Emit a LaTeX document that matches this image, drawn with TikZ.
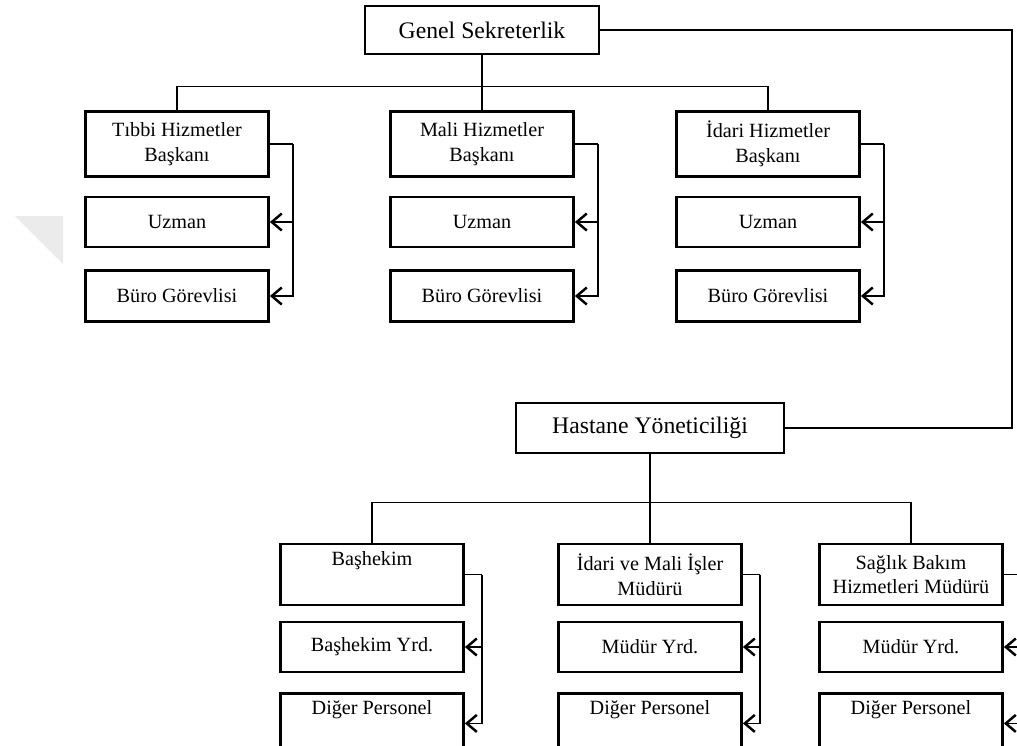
\documentclass[tikz,border=0pt]{standalone}
\usepackage{fontspec}
\setmainfont{Liberation Serif}
\usetikzlibrary{arrows.meta,positioning,calc}

\begin{document}
\begin{tikzpicture}[x=0.02cm,y=-0.02cm,
    box/.style={draw=black, fill=white, line width=1.6pt, minimum width=3.66cm, align=center, inner sep=1pt, font=\fontsize{11.5}{14}\selectfont},
    headbox/.style={box, minimum height=0.96cm, font=\fontsize{13.5}{16}\selectfont},
    conn/.style={line width=0.9pt},
    arr/.style={conn, -{Straight Barb[length=2mm,width=3.4mm,line width=1.4pt]}},
]
    \useasboundingbox (0,0) rectangle (1017,745);
    % faint mark on the left
    \fill[black!8] (15,216) -- (63,216) -- (63,264) -- cycle;

    \node[headbox, minimum width=4.68cm] (genel) at (482,30) {Genel Sekreterlik};
    \node[headbox, minimum width=5.36cm, minimum height=1cm] (hastane) at (650,428) {Hastane Yöneticiliği};

    % upper branch
    \foreach \n/\x/\txt in {tb/177/{Tıbbi Hizmetler\\Başkanı}, ml/482/{Mali Hizmetler\\Başkanı}, id/768/{İdari Hizmetler\\Başkanı}}
    {
        \node[box, minimum height=1.3cm] (\n-b) at (\x,144) {\txt};
        \node[box, minimum height=1cm] (\n-u) at (\x,222) {Uzman};
        \node[box, minimum height=1.02cm] (\n-g) at (\x,296) {Büro Görevlisi};
        \coordinate (\n-c) at ($(\n-b.east)+(23,0)$);
        \draw[conn] (\n-b.east) -- (\n-c);
        \draw[arr] (\n-c) |- (\n-u.east);
        \draw[arr] (\n-c) |- (\n-g.east);
    }

    \draw[conn] (genel.south) -- (ml-b.north);
    \draw[conn] (tb-b.north) -- ++(0,-23.5) -| (id-b.north);

    \coordinate (rt) at (1012,200);
    \draw[conn] (genel.east) -| (rt) |- (hastane.east);

    % lower branch
    \foreach \n/\x/\txt/\sub in {bh/372/{Başhekim\\\strut}/{Başhekim Yrd.}, im/650/{İdari ve Mali İşler\\Müdürü}/{Müdür Yrd.}, sb/911/{Sağlık Bakım\\Hizmetleri Müdürü}/{Müdür Yrd.}}
    {
        \node[box, minimum height=1.22cm] (\n-b) at (\x,574.5) {\txt};
        \node[box, minimum height=1cm] (\n-y) at (\x,647) {\sub};
        \node[box, minimum height=1.2cm, anchor=north] (\n-p) at (\x,692) {Diğer Personel\\\strut};
        \coordinate (\n-c) at ($(\n-b.east)+(17,0)$);
        \draw[conn] (\n-b.east) -- (\n-c);
        \draw[arr] (\n-c) |- (\n-y.east);
        \draw[arr] (\n-c) |- (\n-p.east);
    }

    \draw[conn] (hastane.south) -- (im-b.north);
    \draw[conn] (bh-b.north) -- ++(0,-40) -| (sb-b.north);
\end{tikzpicture}
\end{document}
